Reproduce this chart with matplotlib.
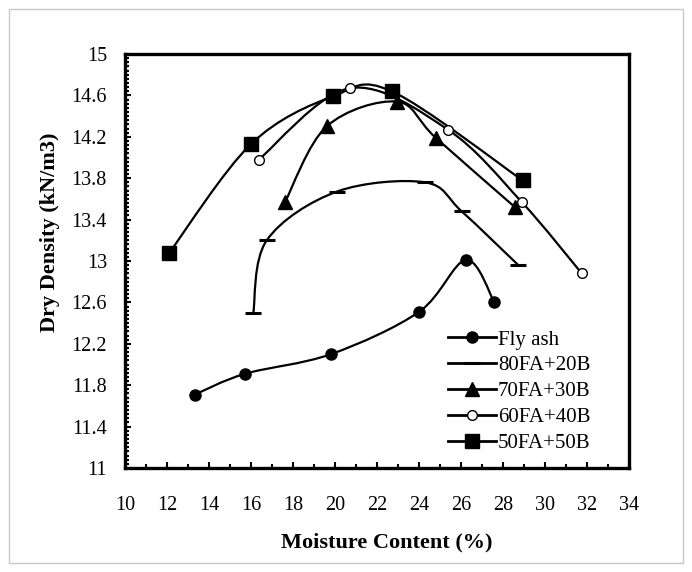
import numpy as np
import matplotlib
matplotlib.use("Agg")
import matplotlib.pyplot as plt
from matplotlib.path import Path
from matplotlib.patches import PathPatch, Rectangle
from matplotlib.lines import Line2D
from matplotlib.ticker import FixedLocator, MultipleLocator, FuncFormatter

# data
fly_x = [13.33, 15.71, 19.81, 24.01, 26.24, 27.59]
fly_y = [11.71, 11.91, 12.10, 12.51, 13.01, 12.60]

fa80_x = [16.11, 16.75, 20.08, 24.29, 26.03, 28.73]
fa80_y = [12.50, 13.20, 13.67, 13.76, 13.48, 12.96]

fa70_x = [17.62, 19.60, 22.94, 24.80, 28.57]
fa70_y = [13.57, 14.30, 14.54, 14.19, 13.52]

fa60_x = [16.37, 20.71, 25.37, 28.89, 31.75]
fa60_y = [13.98, 14.67, 14.27, 13.57, 12.88]

fa50_x = [12.11, 16.00, 19.89, 22.70, 28.93]
fa50_y = [13.08, 14.13, 14.59, 14.64, 13.78]

labels = ["Fly ash", "80FA+20B", "70FA+30B", "60FA+40B", "50FA+50B"]

y_ticks = [11, 11.4, 11.8, 12.2, 12.6, 13, 13.4, 13.8, 14.2, 14.6, 15]

SERIF = "Liberation Serif"


def smooth_patch(xs, ys, lw=1.6):
    # Excel-style smoothed line (Catmull-Rom as cubic Bezier)
    pts = np.column_stack([xs, ys]).astype(float)
    n = len(pts)
    verts = [pts[0]]
    codes = [Path.MOVETO]
    for i in range(n - 1):
        p0 = pts[i - 1] if i > 0 else pts[i]
        p1 = pts[i]
        p2 = pts[i + 1]
        p3 = pts[i + 2] if i + 2 < n else pts[i + 1]
        verts += [p1 + (p2 - p0) / 6.0, p2 - (p3 - p1) / 6.0, p2]
        codes += [Path.CURVE4] * 3
    return PathPatch(Path(verts, codes), fill=False, edgecolor="black", lw=lw,
                     capstyle="round", joinstyle="round")


fig = plt.figure(figsize=(6.92, 5.72), dpi=100)
ax = fig.add_axes([125 / 692, 1 - 468 / 572, 504 / 692, 414 / 572])

styles = [
    (fly_x, fly_y, dict(marker="o", ms=8, mfc="black", mec="black")),
    (fa80_x, fa80_y, dict(marker="_", ms=11, mew=2.2, mec="black")),
    (fa70_x, fa70_y, dict(marker="^", ms=10, mfc="black", mec="black")),
    (fa60_x, fa60_y, dict(marker="o", ms=7, mfc="white", mec="black", mew=1.0)),
    (fa50_x, fa50_y, dict(marker="s", ms=10, mfc="black", mec="black")),
]

handles = []
for (xs, ys, mk), lab in zip(styles, labels):
    patch = smooth_patch(xs, ys)
    patch.set_transform(ax.transData)
    ax.add_patch(patch)
    ax.plot(xs, ys, ls="none", zorder=3, **mk)
    handles.append(Line2D([], [], color="black", lw=2, **mk))

ax.set_xlim(10, 34)
ax.set_ylim(11, 15)
ax.xaxis.set_major_locator(MultipleLocator(2))
ax.xaxis.set_minor_locator(MultipleLocator(1))
ax.yaxis.set_major_locator(FixedLocator(y_ticks))
ax.yaxis.set_minor_locator(FixedLocator(np.linspace(11, 15, 101)))
ax.yaxis.set_major_formatter(FuncFormatter(lambda v, p: f"{round(v, 2):g}"))

ax.tick_params(which="both", direction="in", top=False, right=False, width=1.5)
ax.tick_params(axis="x", which="major", length=4, pad=20)
ax.tick_params(axis="x", which="minor", length=3)
ax.tick_params(axis="y", which="major", length=4, pad=13)
ax.tick_params(axis="y", which="minor", length=3)
for t in ax.get_xticklabels() + ax.get_yticklabels():
    t.set_fontfamily(SERIF)
    t.set_fontsize(14.5)

for s in ax.spines.values():
    s.set_linewidth(2.4)

fig.text(50 / 692, 1 - 232 / 572, "Dry Density (kN/m3)", rotation=90,
         ha="center", va="center", family=SERIF, fontweight="bold", fontsize=16)
fig.text(387 / 692, 1 - 542 / 572, "Moisture Content (%)",
         ha="center", va="center", family=SERIF, fontweight="bold", fontsize=16)

leg = ax.legend(handles, labels, loc="upper left",
                bbox_to_anchor=((448 - 125) / 504, (468 - 330) / 414),
                frameon=False, borderpad=0, borderaxespad=0,
                handlelength=2.3, handletextpad=0.1, labelspacing=0.3,
                prop={"family": SERIF, "size": 15})

fig.patches.append(Rectangle((9 / 692, 9 / 572), 674 / 692, 554 / 572,
                             transform=fig.transFigure, fill=False,
                             edgecolor="#c8c8c8", lw=1))

fig.savefig("out.png", dpi=100)
